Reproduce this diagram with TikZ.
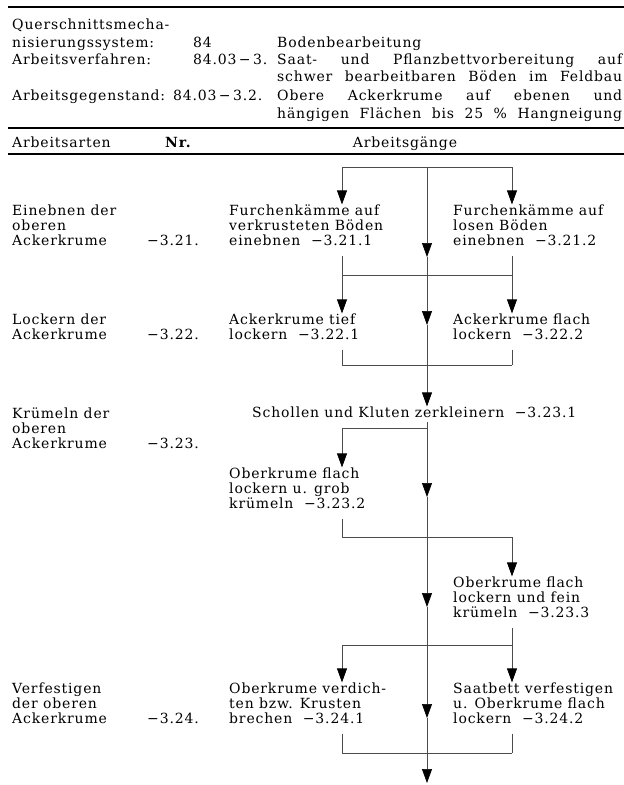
\documentclass[tikz,border=0pt]{standalone}
\usepackage{fontspec}
\setmainfont{DejaVu Serif}[LetterSpace=6]
\usetikzlibrary{arrows.meta}
\newcommand\jline[1]{\makebox[345pt][s]{#1}}

\begin{document}
\begin{tikzpicture}[x=1pt, y=-1pt,
    hd/.style={anchor=base west, inner sep=0pt, font=\fontsize{14}{15}\selectfont},
    lbl/.style={anchor=north west, inner sep=0pt, align=left, font=\fontsize{14}{15}\selectfont},
    flow/.style={line width=0.7pt, black!70},
    stub/.style={flow, shorten <=10pt},
    arr/.style={flow, -{Triangle[width=10pt,length=14pt,color=black]}}]
  \useasboundingbox (0,0) rectangle (624,785);
  % Header
  \draw[line width=1.6pt] (8,7) -- (624,7);
  \node[hd] (q1) at (12,29) {Querschnittsmecha-};
  \node[hd] (q2) at (12,47) {nisierungssystem:};
  \node[hd] (q2n) at (193,47) {84};
  \node[hd] (q2t) at (277,47) {Bodenbearbeitung};
  \node[hd] (q3) at (12,64) {Arbeitsverfahren:};
  \node[hd] (q3n) at (193,64) {84.03\,−\,3.};
  \node[hd] (q3t) at (277,64) {\jline{Saat- und Pflanzbettvorbereitung auf}};
  \node[hd] (q3u) at (277,81) {\jline{schwer bearbeitbaren Böden im Feldbau}};
  \node[hd] (q4) at (12,100) {Arbeitsgegenstand:};
  \node[hd] (q4n) at (173,100) {84.03\,−\,3.2.};
  \node[hd] (q4t) at (277,100) {\jline{Obere Ackerkrume auf ebenen und}};
  \node[hd] (q4u) at (277,118) {\jline{hängigen Flächen bis 25\ \% Hangneigung}};
  \draw[line width=1.2pt] (8,128) -- (624,128);
  \node[hd] (th1) at (12,147) {Arbeitsarten};
  \node[hd] (th2) at (165,147) {\textbf{Nr.}};
  \node[hd, anchor=base] (th3) at (405,147) {Arbeitsgänge};
  \draw[line width=1.2pt] (8,154) -- (624,154);
  % Arbeitsarten and Nr.
  \node[lbl] (a21) at (12,204.4) {Einebnen der\\oberen\\Ackerkrume};
  \node[hd] (n21) at (147,245) {−3.21.};
  \node[lbl] (a22) at (12,313.4) {Lockern der\\Ackerkrume};
  \node[hd] (n22) at (147,339) {−3.22.};
  \node[lbl] (a23) at (12,407.4) {Krümeln der\\oberen\\Ackerkrume};
  \node[hd] (n23) at (147,448) {−3.23.};
  \node[lbl] (a24) at (12,682.4) {Verfestigen\\der oberen\\Ackerkrume};
  \node[hd] (n24) at (147,723) {−3.24.};
  % Arbeitsgaenge
  \node[lbl] (r211) at (229,204.4) {Furchenkämme auf\\verkrusteten Böden\\einebnen\ \ −3.21.1};
  \node[lbl] (r212) at (453,204.4) {Furchenkämme auf\\losen Böden\\einebnen\ \ −3.21.2};
  \node[lbl] (r221) at (229,313.4) {Ackerkrume tief\\lockern\ \ −3.22.1};
  \node[lbl] (r222) at (453,313.4) {Ackerkrume flach\\lockern\ \ −3.22.2};
  \node[lbl] (r231) at (252,406.4) {Schollen und Kluten zerkleinern\ \ −3.23.1};
  \node[lbl] (r232) at (229,467.4) {Oberkrume flach\\lockern u. grob\\krümeln\ \ −3.23.2};
  \node[lbl] (r233) at (453,576.4) {Oberkrume flach\\lockern und fein\\krümeln\ \ −3.23.3};
  \node[lbl] (r241) at (229,682.4) {Oberkrume verdich-\\ten bzw. Krusten\\brechen\ \ −3.24.1};
  \node[lbl] (r242) at (453,682.4) {Saatbett verfestigen\\u. Oberkrume flach\\lockern\ \ −3.24.2};
  % Columns and junctions
  \coordinate (lx) at (342,0);
  \coordinate (cx) at (427,0);
  \coordinate (rx) at (512,0);
  \coordinate (h0) at (0,167);
  \coordinate (h1) at (0,275);
  \coordinate (h2) at (0,365);
  \coordinate (h3) at (0,428);
  \coordinate (h4) at (0,537);
  \coordinate (h5) at (0,645);
  \coordinate (h6) at (0,753);
  \coordinate (c1) at (427,257);
  \coordinate (c2) at (427,325);
  \coordinate (c3) at (427,497);
  \coordinate (c4) at (427,607);
  \coordinate (c5) at (427,718);
  \coordinate (c6) at (427,783);
  % Row 3.21
  \draw[flow] (lx|-h0) -- (rx|-h0);
  \draw[arr] (lx|-h0) -- (lx|-r211.north);
  \draw[arr] (rx|-h0) -- (rx|-r212.north);
  \draw[arr] (cx|-h0) -- (c1);
  \draw[flow] (c1) -- (cx|-h1);
  \draw[stub] (lx|-r211.south) -- (lx|-h1);
  \draw[stub] (rx|-r212.south) -- (rx|-h1);
  % Row 3.22
  \draw[flow] (lx|-h1) -- (rx|-h1);
  \draw[arr] (lx|-h1) -- (lx|-r221.north);
  \draw[arr] (rx|-h1) -- (rx|-r222.north);
  \draw[arr] (cx|-h1) -- (c2);
  \draw[flow] (c2) -- (cx|-h2);
  \draw[stub] (lx|-r221.south) -- (lx|-h2);
  \draw[stub] (rx|-r222.south) -- (rx|-h2);
  \draw[flow] (lx|-h2) -- (rx|-h2);
  % Row 3.23
  \draw[arr] (cx|-h2) -- (cx|-r231.north);
  \draw[flow, shorten <=4pt] (cx|-r231.south) -- (cx|-h3);
  \draw[flow] (cx|-h3) -- (lx|-h3);
  \draw[arr] (lx|-h3) -- (lx|-r232.north);
  \draw[arr] (cx|-h3) -- (c3);
  \draw[flow] (c3) -- (cx|-h4);
  \draw[stub] (lx|-r232.south) -- (lx|-h4);
  \draw[flow] (lx|-h4) -- (rx|-h4);
  \draw[arr] (rx|-h4) -- (rx|-r233.north);
  \draw[arr] (cx|-h4) -- (c4);
  \draw[flow] (c4) -- (cx|-h5);
  \draw[stub] (rx|-r233.south) -- (rx|-h5);
  % Row 3.24
  \draw[flow] (lx|-h5) -- (rx|-h5);
  \draw[arr] (lx|-h5) -- (lx|-r241.north);
  \draw[arr] (rx|-h5) -- (rx|-r242.north);
  \draw[arr] (cx|-h5) -- (c5);
  \draw[flow] (c5) -- (cx|-h6);
  \draw[stub] (lx|-r241.south) -- (lx|-h6);
  \draw[stub] (rx|-r242.south) -- (rx|-h6);
  \draw[flow] (lx|-h6) -- (rx|-h6);
  \draw[arr] (cx|-h6) -- (c6);
\end{tikzpicture}
\end{document}
